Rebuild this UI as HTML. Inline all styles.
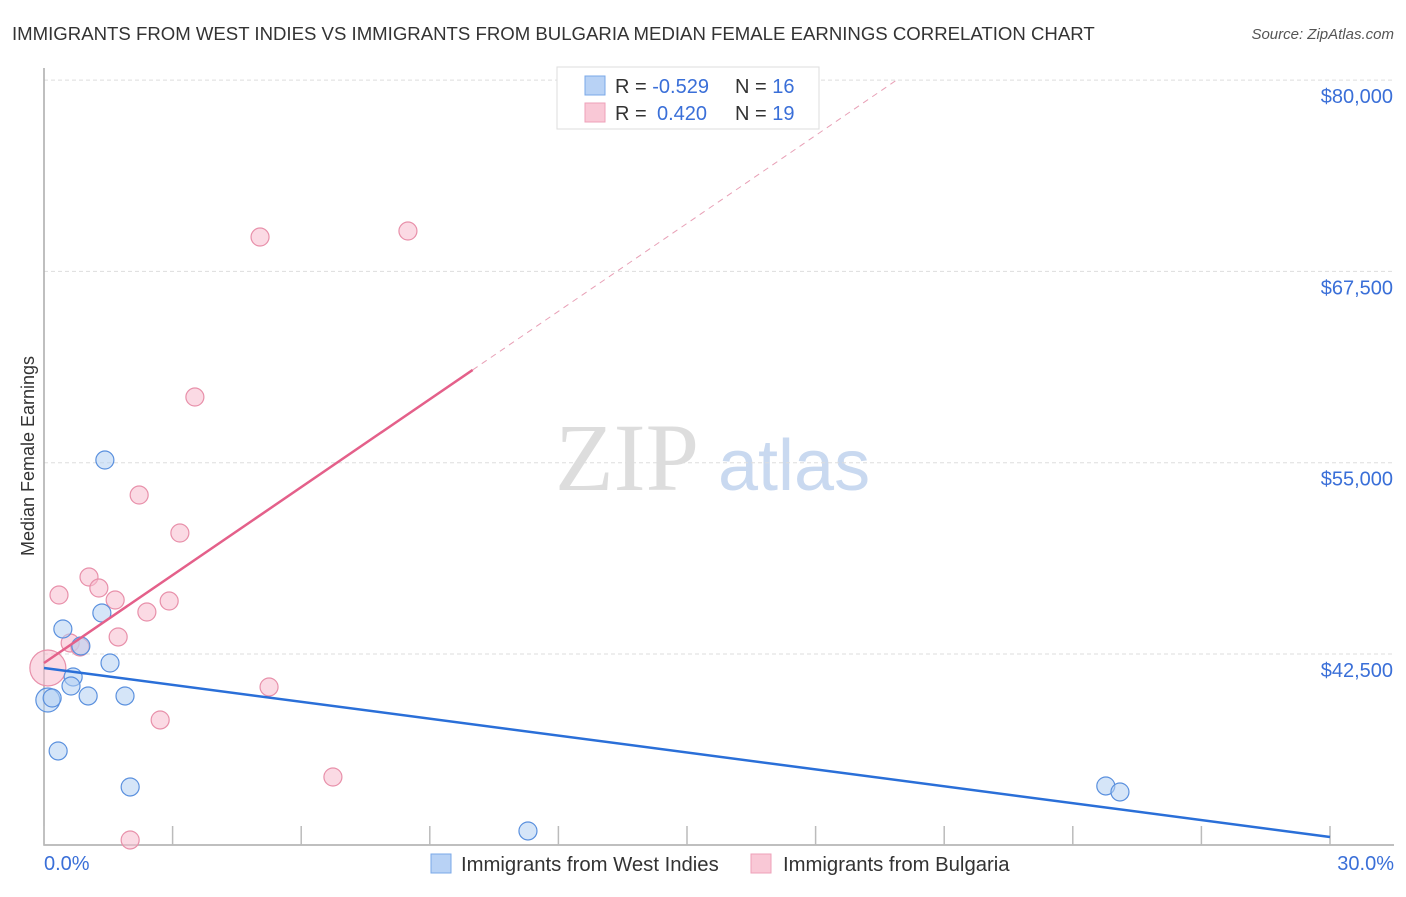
<!DOCTYPE html>
<html><head><meta charset="utf-8"><style>
body{margin:0;background:#fff;font-family:"Liberation Sans",sans-serif;}
</style></head><body>
<svg width="1406" height="892" viewBox="0 0 1406 892" xmlns="http://www.w3.org/2000/svg">
<text x="12" y="40" font-size="18.6" fill="#333">IMMIGRANTS FROM WEST INDIES VS IMMIGRANTS FROM BULGARIA MEDIAN FEMALE EARNINGS CORRELATION CHART</text>
<text x="1394" y="39" font-size="15" fill="#555" font-style="italic" text-anchor="end">Source: ZipAtlas.com</text>
<text x="555" y="490" font-size="96" fill="#ddd" font-family="Liberation Serif,serif">ZIP</text>
<text x="718" y="490" font-size="72" fill="#c9d9f0">atlas</text>
<g id="grid"></g><g id="axes"></g><g id="marks"></g>
<text transform="translate(34,456) rotate(-90)" font-size="18" fill="#333" text-anchor="middle">Median Female Earnings</text>
<text x="44" y="870" font-size="20" fill="#3a6fd8">0.0%</text>
<text x="1394" y="870" font-size="20" fill="#3a6fd8" text-anchor="end">30.0%</text>
<g>
<rect x="557" y="67" width="262" height="62" fill="#fff" stroke="#ddd"/>
<rect x="585" y="76" width="20" height="19" fill="#b8d2f5" stroke="#7aa8e8"/>
<rect x="585" y="103" width="20" height="19" fill="#f9c8d6" stroke="#eea0b8"/>
<text x="615" y="93" font-size="20" fill="#333">R = <tspan fill="#3a6fd8">-0.529</tspan><tspan x="735">N = </tspan><tspan fill="#3a6fd8">16</tspan></text>
<text x="615" y="120" font-size="20" fill="#333">R = <tspan x="657" fill="#3a6fd8">0.420</tspan><tspan x="735">N = </tspan><tspan fill="#3a6fd8">19</tspan></text>
</g>
<g>
<rect x="431" y="854" width="20" height="19" fill="#b8d2f5" stroke="#7aa8e8"/>
<text x="461" y="871" font-size="20.3" fill="#333">Immigrants from West Indies</text>
<rect x="751" y="854" width="20" height="19" fill="#f9c8d6" stroke="#eea0b8"/>
<text x="783" y="871" font-size="20.3" fill="#333">Immigrants from Bulgaria</text>
</g>
</svg>
<script>
const yTicks=[80000,67500,55000,42500];
const yTickLabels=["$80,000","$67,500","$55,000","$42,500"];
const xTicks=[0,3,6,9,12,15,18,21,24,27,30];
const blueX=[0.09,0.19,0.33,0.44,0.68,0.63,0.86,1.03,1.35,1.42,1.54,1.89,2.01,11.29,24.77,25.1];
const blueY=[39494,39625,36162,44134,40998,40409,43023,39756,45179,55176,41912,39756,33810,30935,33875,33483];
const pinkX=[0.09,0.35,0.61,0.84,1.05,1.28,1.66,1.73,2.22,2.40,2.71,2.92,3.17,3.52,5.04,5.25,6.74,8.49,2.01];
const pinkY=[41585,46355,43219,42957,47531,46812,46028,43611,52889,45244,38188,45963,50406,59292,69747,40344,34463,70139,30347];
const blueTrend=[41585,30543];
const pinkTrend=[41912,1915];
const X=v=>44+v*(1330-44)/30;
const Y=v=>654+(42500-v)*191.3/12500;
const NS="http://www.w3.org/2000/svg";
function mk(parent,tag,attrs){const e=document.createElementNS(NS,tag);for(const k in attrs)e.setAttribute(k,attrs[k]);document.getElementById(parent).appendChild(e);return e;}
yTicks.forEach((t,i)=>{
 const l=mk('grid','line',{x1:44,x2:1394,y1:Y(t),y2:Y(t),stroke:'#ddd','stroke-dasharray':'4,3'});
 
 
 const tx=mk('grid','text',{x:1393,y:Y(t)+23,'font-size':20,fill:'#3a6fd8','text-anchor':'end'});
 tx.textContent=yTickLabels[i];
 
 
});
const ax=mk('axes','path',{d:'M44,68 V845 H1394',fill:'none',stroke:'#aaa','stroke-width':1.5});


xTicks.forEach(t=>{
 const l=mk('axes','line',{x1:X(t),x2:X(t),y1:826,y2:845,stroke:'#bbb','stroke-width':1.5});
 
 
});
function dots(xs,ys,fill,stroke,name,bigR){
 xs.forEach((x,i)=>{
  const c=mk('marks','circle',{cx:X(x),cy:Y(ys[i]),r:i===0?bigR:9,fill:fill,'fill-opacity':0.55,stroke:stroke,'stroke-width':1.2});
  
  
 });
}
dots(pinkX,pinkY,'#f7bccd','#e890aa','bulgaria-point',18);
dots(blueX,blueY,'#b3cff3','#5a90de','west-indies-point',12);
const bl=mk('marks','line',{x1:X(0),y1:Y(blueTrend[0]),x2:X(30),y2:Y(blueTrend[1]),stroke:'#2a6fd8','stroke-width':2.5});


const pEnd=(80000-pinkTrend[0])/pinkTrend[1];
const pd=mk('marks','line',{x1:X(10),y1:Y(pinkTrend[0]+pinkTrend[1]*10),x2:X(pEnd),y2:Y(pinkTrend[0]+pinkTrend[1]*pEnd),stroke:'#e8a0b6','stroke-width':1,'stroke-dasharray':'6,5'});


const pl=mk('marks','line',{x1:X(0),y1:Y(pinkTrend[0]),x2:X(10),y2:Y(pinkTrend[0]+pinkTrend[1]*10),stroke:'#e4608a','stroke-width':2.5});


</script>
</body></html>
